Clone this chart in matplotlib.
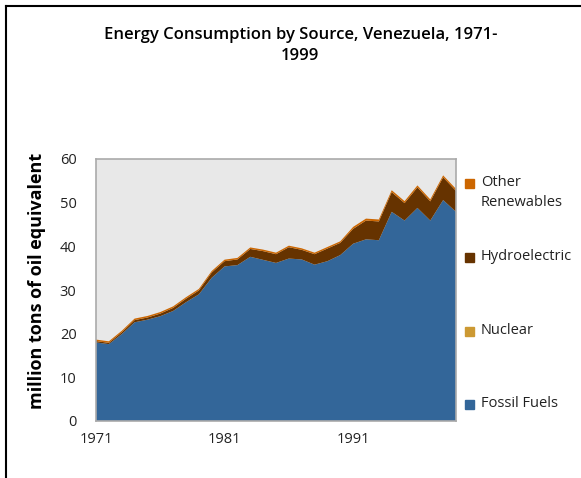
import matplotlib
matplotlib.use("Agg")
import matplotlib.pyplot as plt
from matplotlib.patches import Rectangle
from matplotlib.lines import Line2D
import numpy as np

plt.rcParams['font.family'] = ['Open Sans', 'DejaVu Sans']

# data (million tons of oil equivalent)
years = list(range(1971, 2000))
fossil = [18.0, 17.6, 19.9, 22.6, 23.2, 24.0, 25.2, 27.2, 29.0, 32.8,
          35.4, 35.7, 37.6, 36.9, 36.2, 37.2, 37.0, 35.8, 36.6, 38.0,
          40.6, 41.6, 41.4, 47.9, 45.9, 48.8, 45.9, 50.6, 47.9]
nuclear = [0.0] * 29
hydro = [0.3, 0.3, 0.4, 0.5, 0.5, 0.6, 0.7, 0.8, 0.9, 1.2,
         1.2, 1.3, 1.8, 2.0, 2.0, 2.6, 2.2, 2.4, 2.9, 2.8,
         3.4, 4.3, 4.3, 4.5, 4.0, 4.7, 4.4, 5.2, 4.8]
other = [0.35, 0.35, 0.35, 0.35, 0.35, 0.35, 0.35, 0.35, 0.35, 0.35,
         0.35, 0.35, 0.35, 0.35, 0.35, 0.35, 0.35, 0.35, 0.35, 0.35,
         0.45, 0.45, 0.45, 0.45, 0.45, 0.45, 0.45, 0.45, 0.45]

labels = ['Fossil Fuels', 'Nuclear', 'Hydroelectric', 'Other\nRenewables']
colors = ['#336699', '#CC9933', '#663300', '#CC6600']
tick_years = [1971, 1981, 1991]

fig = plt.figure(figsize=(5.81, 4.78), dpi=100)
ax = fig.add_axes([96/581, 57/478, 360/581, 262/478])

ax.stackplot(years, fossil, nuclear, hydro, other, colors=colors, linewidth=0)
ax.set_facecolor('#E8E8E8')
ax.set_xlim(1971, 1999)
ax.set_ylim(0, 60)
ax.set_yticks(np.arange(0, 61, 10))
ax.set_xticks(tick_years)
ax.tick_params(length=0, labelsize=10.5, colors='#222222', pad=8)
ax.tick_params(axis='y', pad=14)
for s in ax.spines.values():
    s.set_color('#AAAAAA')
    s.set_linewidth(1.2)
ax.set_ylabel('million tons of oil equivalent', fontsize=13, fontweight='bold')
ax.yaxis.set_label_coords(-0.138, 0.535)

fig.text(0.517, 0.943, 'Energy Consumption by Source, Venezuela, 1971-\n1999',
         ha='center', va='top', fontsize=12, fontweight='semibold', linespacing=1.4)

# legend on the right, top entry first
leg_y = [183, 257, 331, 404]
for y, lab, c in zip(leg_y, labels[::-1], colors[::-1]):
    fy = 1 - y/478
    fig.patches.append(Rectangle((465/581, fy - 4.5/478), 9/581, 9/478,
                                 transform=fig.transFigure, color=c))
    fig.text(481/581, fy + 8/478, lab, ha='left', va='top', fontsize=10.5,
             linespacing=1.45, color='#222222')

# outer frame (left and top edges)
fig.add_artist(Line2D([6/581, 6/581], [0, 1 - 6/478], color='black', lw=1.5,
                      transform=fig.transFigure))
fig.add_artist(Line2D([6/581, 1], [1 - 6/478, 1 - 6/478], color='black', lw=1.5,
                      transform=fig.transFigure))

fig.savefig('out.png', dpi=100)
